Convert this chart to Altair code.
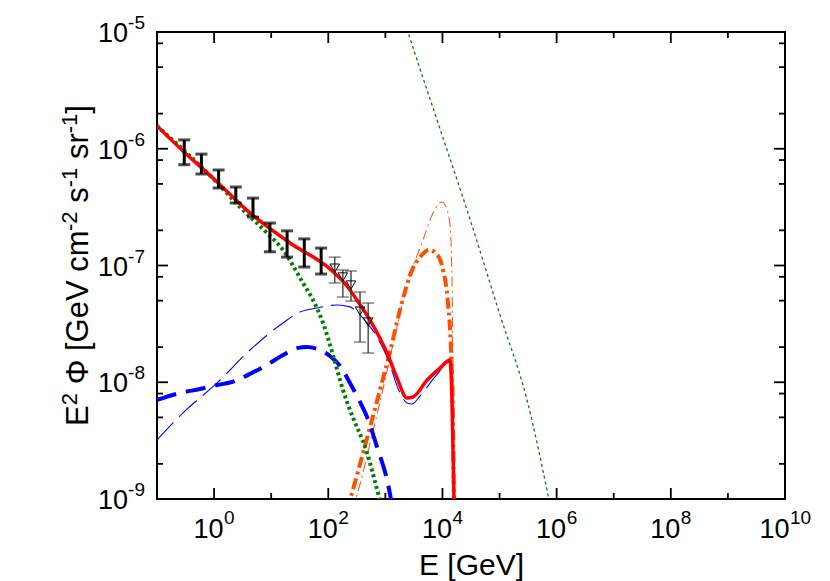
import altair as alt
import pandas as pd

W, H = 628, 467
FONT = "Liberation Sans"

# ---------------- curves ----------------
red_E = [0.1, 0.285, 1.037, 4.256, 21.38, 107.2, 212.8, 318.4, 538.3, 1069, 1600, 2393, 3048, 5358, 9057, 13552, 14689, 15922, 16200]
red_F = [1.57e-6, 9.57e-7, 5.40e-7, 2.82e-7, 1.56e-7, 9.33e-8, 6.67e-8, 5.06e-8, 3.41e-8, 1.78e-8, 1.09e-8, 7.33e-9, 7.48e-9, 1.04e-8, 1.32e-8, 1.55e-8, 7.05e-9, 9.8e-10, 6.0e-10]

green_E = [0.1, 1.037, 2.84, 8.45, 16.1, 36.1, 54.1, 80.9, 121, 181, 240, 478, 805, 1026]
green_F = [1.57e-6, 5.34e-7, 3.17e-7, 1.90e-7, 1.36e-7, 7.08e-8, 5.06e-8, 3.22e-8, 1.71e-8, 8.59e-9, 5.78e-9, 2.48e-9, 9.8e-10, 6.6e-10]

blue_E = [0.1, 0.253, 0.566, 1.125, 2.32, 4.26, 8.45, 16.1, 28.3, 42.4, 63.5, 107, 161, 240, 360, 478, 714, 1069, 1361]
blue_F = [7.05e-9, 8.09e-9, 8.75e-9, 9.46e-9, 1.025e-8, 1.18e-8, 1.41e-8, 1.71e-8, 1.96e-8, 2.00e-8, 1.93e-8, 1.68e-8, 1.38e-8, 9.86e-9, 6.78e-9, 5.04e-9, 2.79e-9, 1.46e-9, 8.05e-10]

bluethin_E = [0.1, 0.285, 1.125, 4.26, 16.1, 32.0, 63.5, 142, 240, 318, 478, 714, 1069, 1807, 2393, 2931, 4046, 7413, 13552, 14689, 15922]
bluethin_F = [3.20e-9, 5.46e-9, 9.86e-9, 1.89e-8, 3.22e-8, 4.00e-8, 4.33e-8, 4.59e-8, 4.42e-8, 4.00e-8, 3.22e-8, 2.44e-8, 1.65e-8, 8.09e-9, 6.64e-9, 6.51e-9, 7.62e-9, 1.11e-8, 1.49e-8, 4.75e-9, 8.05e-10]

orange_E = [213, 240, 478, 805, 1205, 1803, 3048, 4046, 5821, 8356, 10233, 12503, 14125, 15311, 15922]
orange_F = [8.05e-10, 9.8e-10, 3.33e-9, 8.59e-9, 1.82e-8, 4.16e-8, 9.53e-8, 1.18e-7, 1.36e-7, 1.21e-7, 9.14e-8, 4.77e-8, 1.89e-8, 4.75e-9, 8.05e-10]

orangethin_E = [261, 318, 583, 986, 1476, 2393, 4560, 6839, 9817, 12023, 13552, 14689, 15311, 15922]
orangethin_F = [8.05e-10, 1.08e-9, 3.53e-9, 1.04e-8, 2.54e-8, 6.81e-8, 1.65e-7, 2.82e-7, 3.50e-7, 2.99e-7, 2.22e-7, 7.52e-8, 1.04e-8, 8.05e-10]

greenthin_E = [1663, 2495, 8035, 26915, 101860, 302700, 734500, 796200]
greenthin_F = [1.88e-5, 1.0e-5, 1.76e-6, 2.99e-7, 3.77e-8, 7.05e-9, 9.8e-10, 8.05e-10]

# ---------------- measurements ----------------
fermi_E = [0.3, 0.6, 1.2, 2.4, 4.8, 9.5, 19, 38, 75]
fermi_hi = [1.19e-6, 9.0e-7, 6.58e-7, 4.70e-7, 3.78e-7, 2.31e-7, 1.98e-7, 1.69e-7, 1.41e-7]
fermi_lo = [7.3e-7, 6.08e-7, 4.61e-7, 3.43e-7, 2.60e-7, 1.31e-7, 1.18e-7, 9.7e-8, 8.45e-8]

hess_E = [130, 180, 250, 360, 500]
hess_F = [9.5e-8, 7.98e-8, 6.81e-8, 4.07e-8, 3.28e-8]
hess_hi = [1.18e-7, 9.15e-8, 8.97e-8, 5.93e-8, 4.77e-8]
hess_lo = [7.08e-8, 5.37e-8, 4.96e-8, 2.21e-8, 1.78e-8]

# ---------------- axes ----------------
x_major = [1e0, 1e2, 1e4, 1e6, 1e8, 1e10]
x_minor = [1e-1, 1e1, 1e3, 1e5, 1e7, 1e9]
x_exp = ["0", "2", "4", "6", "8", "10"]
y_major = [1e-9, 1e-8, 1e-7, 1e-6, 1e-5]
y_exp = ["-9", "-8", "-7", "-6", "-5"]
y_minor = [m * 10.0 ** e for e in [-9, -8, -7, -6] for m in (2, 5, 8)]

x_title = "E [GeV]"
# y title pieces: (text, is_superscript)
y_title = [("E", False), ("2", True), (" Φ [GeV cm", False), ("-2", True), (" s", False),
           ("-1", True), (" sr", False), ("-1", True), ("]", False)]

xscale = alt.Scale(type="log", domain=[1e-1, 1e10], nice=False)
yscale = alt.Scale(type="log", domain=[1e-9, 1e-5], nice=False)
xaxis = alt.Axis(title=x_title, labels=False, ticks=False, domain=False, grid=False,
                 titleFont=FONT, titleFontSize=30, titleFontWeight="normal",
                 titleColor="black", titlePadding=51)


def X(f="E"):
    return alt.X(f, type="quantitative", scale=xscale, axis=xaxis)


def Y(f="F"):
    return alt.Y(f, type="quantitative", scale=yscale, axis=None)


def line(E, F, color, width, dash=None):
    kw = dict(color=color, strokeWidth=width, clip=True, interpolate="monotone", strokeCap="butt")
    if dash:
        kw["strokeDash"] = dash
    return alt.Chart(pd.DataFrame({"E": E, "F": F})).mark_line(**kw).encode(x=X(), y=Y())


layers = []
layers.append(line(greenthin_E, greenthin_F, "#008000", 1.3, [3, 3]))
layers.append(line(orangethin_E, orangethin_F, "#ff5a1a", 1.1, [10, 4, 2, 4]))
layers.append(line(orange_E, orange_F, "#ff5000", 4, [11, 4, 3, 4]))
layers.append(line(bluethin_E, bluethin_F, "#0000ff", 1.1, [24, 8]))
layers.append(line(blue_E, blue_F, "#0000ff", 4, [20, 10]))
layers.append(line(green_E, green_F, "#008000", 4, [3, 3]))
layers.append(line(red_E, red_F, "#ff0000", 3.5))

# black error bars
fdf = pd.DataFrame({"E": fermi_E, "lo": fermi_lo, "hi": fermi_hi})
layers.append(alt.Chart(fdf).mark_rule(color="black", strokeWidth=3).encode(
    x=X(), y=Y("lo"), y2=alt.Y2("hi")))
for c in ("lo", "hi"):
    layers.append(alt.Chart(fdf).mark_tick(color="black", orient="horizontal", size=12, thickness=3).encode(
        x=X(), y=Y(c)))

# grey error bars with open down-triangles
hdf = pd.DataFrame({"E": hess_E, "F": hess_F, "lo": hess_lo, "hi": hess_hi})
layers.append(alt.Chart(hdf).mark_rule(color="#333333", strokeWidth=1.3).encode(
    x=X(), y=Y("lo"), y2=alt.Y2("hi")))
for c in ("lo", "hi"):
    layers.append(alt.Chart(hdf).mark_tick(color="#333333", orient="horizontal", size=12, thickness=1.3).encode(
        x=X(), y=Y(c)))
layers.append(alt.Chart(hdf).mark_point(shape="triangle-down", filled=False, color="black",
                                        size=90, strokeWidth=1, opacity=1).encode(x=X(), y=Y()))

# inward ticks on all four sides
TW = 1.8
LONG, SHORT = 11, 6
for vals, L in ((x_major, LONG), (x_minor, SHORT)):
    d = pd.DataFrame({"E": vals})
    layers.append(alt.Chart(d).mark_rule(color="black", strokeWidth=TW).encode(
        x=X(), y=alt.value(H), y2=alt.value(H - L)))
    layers.append(alt.Chart(d).mark_rule(color="black", strokeWidth=TW).encode(
        x=X(), y=alt.value(0), y2=alt.value(L)))
for vals, L in ((y_major, LONG), (y_minor, SHORT)):
    d = pd.DataFrame({"F": vals})
    layers.append(alt.Chart(d).mark_rule(color="black", strokeWidth=TW).encode(
        y=Y(), x=alt.value(0), x2=alt.value(L)))
    layers.append(alt.Chart(d).mark_rule(color="black", strokeWidth=TW).encode(
        y=Y(), x=alt.value(W), x2=alt.value(W - L)))

# tick labels "10" with superscript exponent
BASE_FS, EXP_FS = 27, 19
xl = pd.DataFrame({"E": x_major, "exp": x_exp})
xl1 = xl[xl["exp"].str.len() == 1]
xl2 = xl[xl["exp"].str.len() == 2]
for d, off in ((xl1, 9.5), (xl2, 4.5)):
    layers.append(alt.Chart(d).mark_text(align="right", baseline="middle", dx=off, dy=31,
                                         font=FONT, fontSize=BASE_FS, color="black").encode(
        x=X(), y=alt.value(H), text=alt.value("10")))
    layers.append(alt.Chart(d).mark_text(align="left", baseline="middle", dx=off + 0.5, dy=19,
                                         font=FONT, fontSize=EXP_FS, color="black").encode(
        x=X(), y=alt.value(H), text="exp:N"))

yl = pd.DataFrame({"F": y_major, "exp": y_exp})
layers.append(alt.Chart(yl).mark_text(align="right", baseline="middle", dx=-29, dy=2,
                                      font=FONT, fontSize=BASE_FS, color="black").encode(
    y=Y(), x=alt.value(0), text=alt.value("10")))
layers.append(alt.Chart(yl).mark_text(align="right", baseline="middle", dx=-12, dy=-9,
                                      font=FONT, fontSize=EXP_FS, color="black").encode(
    y=Y(), x=alt.value(0), text="exp:N"))

# rotated y title assembled from pieces (Arial-metric advance widths, em)
CW = {"E": .667, "2": .556, "Φ": .78, "[": .278, "G": .778, "e": .556, "V": .667, "c": .5,
      "m": .833, "-": .333, "s": .5, "1": .556, "r": .333, "]": .278, " ": .278}
T_MAIN, T_SUP = 31, 22
total = sum(sum(CW[ch] for ch in t) * (T_SUP if sup else T_MAIN) for t, sup in y_title)
cursor = H / 2 + total / 2
BASE_X = -69
for t, sup in y_title:
    fs = T_SUP if sup else T_MAIN
    lead = len(t) - len(t.lstrip(" "))
    cursor -= lead * CW[" "] * fs
    s = t.lstrip(" ")
    layers.append(alt.Chart(pd.DataFrame({"a": [0]})).mark_text(
        angle=270, align="left", baseline="alphabetic", font=FONT, fontSize=fs, color="black").encode(
        x=alt.value(BASE_X - (11 if sup else 0)), y=alt.value(cursor), text=alt.value(s)))
    cursor -= sum(CW[ch] for ch in s) * fs

chart = alt.layer(*layers).properties(
    width=W, height=H,
    autosize=alt.AutoSizeParams(type="none"),
    padding={"left": 149, "top": 24, "right": 37, "bottom": 82},
    background="white",
).configure_view(stroke="black", strokeWidth=2)

chart.save("out.html", embed_options={"renderer": "svg", "actions": False})
